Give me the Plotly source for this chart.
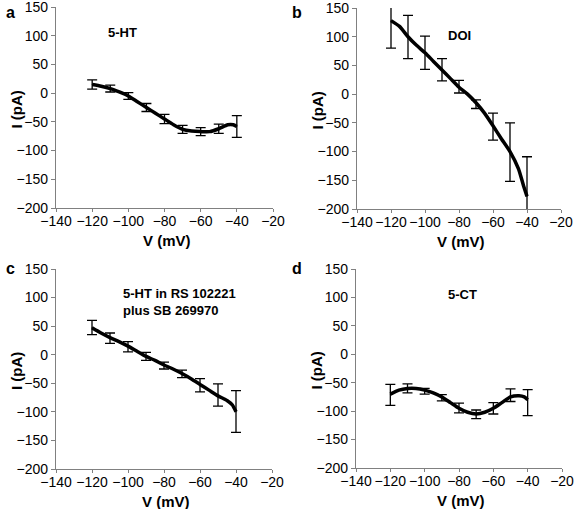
import plotly.graph_objects as go

W, H = 574, 509

# ---------------- data ----------------
v_curve = [-120, -115, -110, -105, -100, -95, -90, -85, -80, -75, -70, -65, -60, -55, -50, -45, -42, -40]
v_err = [-120, -110, -100, -90, -80, -70, -60, -50, -40]

# a: 5-HT
a_mean = [15, 12, 8, 2, -5, -15, -25, -35, -45, -55, -63, -66, -67, -67, -62, -55, -55, -58]
a_err_mean = [15, 8, -5, -25, -45, -63, -67, -62, -58]
a_err_hi = [8, 6, 6, 7, 8, 7, 7, 8, 19]
a_err_lo = [8, 6, 6, 7, 8, 7, 7, 8, 19]

# b: DOI
b_mean = [128, 118, 100, 85, 72, 57, 42, 27, 12, 0, -15, -33, -55, -78, -100, -130, -160, -178]
b_err_mean = [128, 100, 72, 42, 12, -15, -55, -100, -178]
b_err_hi = [23, 37, 29, 20, 12, 5, 22, 50, 69]
b_err_lo = [48, 38, 29, 19, 10, 10, 25, 52, 27]

# c: 5-HT in RS 102221 plus SB 269970
c_mean = [47, 38, 30, 23, 15, 6, -3, -10, -18, -25, -33, -42, -52, -62, -72, -80, -88, -100]
c_err_mean = [47, 30, 15, -3, -18, -33, -52, -72, -100]
c_err_hi = [13, 8, 8, 7, 5, 6, 10, 21, 37]
c_err_lo = [12, 10, 10, 7, 7, 7, 13, 18, 36]

# d: 5-CT
d_mean = [-70, -63, -60, -60, -63, -68, -75, -85, -95, -102, -105, -102, -95, -85, -75, -73, -75, -80]
d_err_mean = [-70, -60, -63, -75, -95, -105, -95, -75, -80]
d_err_hi = [17, 8, 3, 4, 9, 7, 10, 14, 18]
d_err_lo = [20, 8, 7, 7, 8, 8, 10, 8, 28]

panel_letters = ["a", "b", "c", "d"]
panel_titles = ["5-HT", "DOI", "5-HT in RS 102221<br>plus SB 269970", "5-CT"]
x_ticks = [-140, -120, -100, -80, -60, -40, -20]
y_ticks = [-200, -150, -100, -50, 0, 50, 100, 150]
x_title = "V (mV)"
y_title = "I (pA)"

# ---------------- layout geometry (pixels) ----------------
# (left, right, top, bottom) of each plot area
boxes = [(56, 273, 7, 208), (357, 561, 8, 209), (56, 272, 269, 469), (356, 562, 269, 468)]
letter_pos = [(10, 12), (297, 12), (10, 268), (297, 268)]
label_pos = [(122, 33, "center"), (459, 35, "center"), (121, 302, "left"), (462, 294, "center")]


def px(x):
    return x / W


def py(y):
    return 1 - y / H


fig = go.Figure()
series = [
    (a_mean, a_err_mean, a_err_hi, a_err_lo),
    (b_mean, b_err_mean, b_err_hi, b_err_lo),
    (c_mean, c_err_mean, c_err_hi, c_err_lo),
    (d_mean, d_err_mean, d_err_hi, d_err_lo),
]

font_family = "Liberation Sans, Arial, sans-serif"
annotations = []
for i, (mean, em, ehi, elo) in enumerate(series):
    n = "" if i == 0 else str(i + 1)
    xa, ya = "x" + n, "y" + n
    fig.add_trace(go.Scatter(
        x=v_err, y=em, mode="markers", xaxis=xa, yaxis=ya,
        marker=dict(size=1, color="black"),
        error_y=dict(type="data", symmetric=False, array=ehi, arrayminus=elo,
                     color="black", thickness=1.3, width=5),
        showlegend=False, hoverinfo="skip", cliponaxis=True,
    ))
    fig.add_trace(go.Scatter(
        x=v_curve, y=mean, mode="lines", xaxis=xa, yaxis=ya,
        line=dict(color="black", width=3.5, shape="spline", smoothing=0.6),
        showlegend=False,
    ))
    l, r, t, b = boxes[i]
    axis_common = dict(showline=True, linecolor="#808080", linewidth=1.2,
                       ticks="outside", tickcolor="#808080", tickwidth=1.2,
                       showgrid=False, zeroline=False, automargin=False,
                       ticklabeloverflow="allow",
                       tickfont=dict(family=font_family, size=14, color="black"))
    fig.update_layout(**{
        "xaxis" + n: dict(domain=[px(l), px(r)], range=[-140, -20], tickvals=x_ticks,
                          anchor=ya, ticklen=3, ticklabelstandoff=-3, **axis_common),
        "yaxis" + n: dict(domain=[py(b), py(t)], range=[-200, 150], tickvals=y_ticks,
                          anchor=xa, ticklen=4, **axis_common),
    })
    # axis titles
    annotations.append(dict(text="<b>" + x_title + "</b>", x=px((l + r) / 2 + 2), y=py(b + 32),
                            xref="paper", yref="paper", showarrow=False,
                            font=dict(family=font_family, size=15, color="black"),
                            xanchor="center", yanchor="middle"))
    annotations.append(dict(text="<b>" + y_title + "</b>", x=px(l - 40), y=py((t + b) / 2 + 2),
                            xref="paper", yref="paper", showarrow=False, textangle=-90,
                            font=dict(family=font_family, size=15, color="black"),
                            xanchor="center", yanchor="middle"))
    lx, ly = letter_pos[i]
    annotations.append(dict(text="<b>" + panel_letters[i] + "</b>", x=px(lx), y=py(ly),
                            xref="paper", yref="paper", showarrow=False,
                            font=dict(family=font_family, size=16, color="black"),
                            xanchor="center", yanchor="middle"))
    tx, ty, anc = label_pos[i]
    annotations.append(dict(text="<b>" + panel_titles[i] + "</b>", x=px(tx), y=py(ty),
                            xref="paper", yref="paper", showarrow=False, align="left",
                            font=dict(family=font_family, size=13, color="black"),
                            xanchor=anc, yanchor="middle"))

fig.update_layout(width=W, height=H, template="none",
                  margin=dict(l=0, r=0, t=0, b=0, pad=0, autoexpand=False),
                  paper_bgcolor="white", plot_bgcolor="white",
                  annotations=annotations, font=dict(family=font_family))
fig.write_html("out.html", config={"displayModeBar": False},
               post_script="document.body.style.margin='0';document.body.style.overflow='hidden';")
